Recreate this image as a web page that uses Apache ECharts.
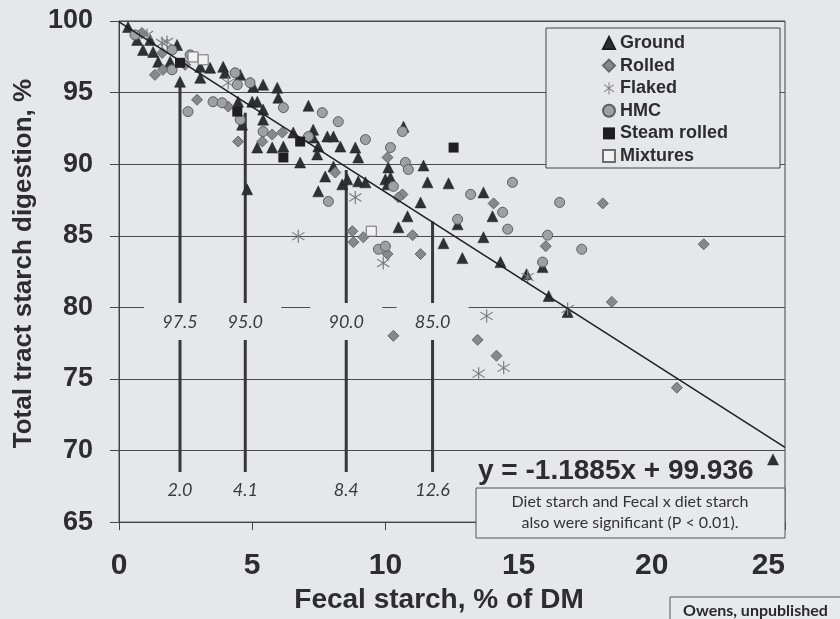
<!DOCTYPE html>
<html>
<head>
<meta charset="utf-8">
<script src="https://cdn.jsdelivr.net/npm/echarts@6/dist/echarts.min.js"></script>
<style>
  html, body { margin: 0; padding: 0; background: #e6e7eb; }
  #main { width: 840px; height: 619px; }
</style>
</head>
<body>
<div id="main"></div>
<script>
// values: [fecal starch % of DM, total tract starch digestion %]
const groundData = [
  [0.34, 99.58], [0.68, 98.68], [1.17, 98.68], [0.90, 97.98], [1.28, 97.84], [2.18, 98.33],
  [1.47, 97.15], [1.92, 97.15], [3.05, 96.80], [3.05, 96.03], [3.42, 96.73], [3.91, 96.80],
  [3.98, 96.38], [4.55, 96.24], [2.29, 95.76], [5.04, 95.41], [5.41, 95.55], [5.94, 95.34],
  [4.47, 94.36], [5.00, 94.36], [4.62, 92.76], [5.41, 93.81], [5.41, 93.11], [5.98, 94.64],
  [7.11, 94.08], [5.19, 91.16], [5.75, 91.16], [6.17, 91.23], [6.54, 92.21], [7.29, 92.41],
  [7.29, 91.86], [7.82, 91.93], [8.05, 91.93], [8.31, 91.23], [7.48, 91.23], [6.80, 90.12],
  [8.05, 89.84], [7.74, 89.14], [7.48, 88.10], [8.38, 88.59], [4.81, 88.24], [7.44, 90.68],
  [8.87, 91.16], [8.98, 90.47], [8.98, 88.80], [9.25, 88.73], [8.57, 88.94], [10.11, 89.77],
  [10.00, 88.94], [10.19, 89.07], [10.08, 88.59], [10.83, 86.36], [10.49, 85.59], [11.32, 87.33],
  [11.58, 88.73], [12.37, 88.66], [11.43, 89.91], [10.68, 92.62], [12.71, 85.80], [13.68, 88.03],
  [14.02, 86.36], [12.18, 84.48], [13.68, 84.90], [12.89, 83.44], [14.32, 83.16], [15.30, 82.32],
  [15.90, 82.81], [16.13, 80.79], [16.84, 79.68], [24.55, 69.38], [5.19, 94.36]
];
const rolledData = [
  [0.86, 99.16], [1.62, 97.77], [1.65, 96.59], [2.93, 94.50], [4.10, 94.02], [4.47, 91.58],
  [5.38, 91.58], [5.75, 92.07], [6.13, 92.21], [8.12, 89.42], [10.08, 90.47], [10.64, 87.89],
  [10.49, 87.68], [14.06, 87.26], [18.16, 87.26], [16.02, 84.27], [21.95, 84.41], [8.76, 85.32],
  [9.17, 84.90], [8.80, 84.55], [11.02, 85.04], [11.32, 83.72], [10.08, 83.72], [18.50, 80.38],
  [10.30, 78.01], [13.46, 77.73], [14.17, 76.62], [20.94, 74.39], [2.48, 96.94], [1.35, 96.24]
];
const flakedData = [
  [1.05, 99.03], [1.62, 98.47], [1.80, 98.54], [4.10, 95.69], [8.87, 87.68], [6.73, 84.97],
  [9.92, 83.09], [13.80, 79.40], [14.44, 75.78], [13.50, 75.37], [15.34, 82.12], [16.84, 79.89]
];
const hmcData = [
  [0.60, 99.03], [1.99, 97.98], [1.99, 96.59], [2.67, 97.63], [4.44, 95.55], [4.92, 95.69],
  [4.36, 96.38], [2.59, 93.67], [3.53, 94.36], [3.87, 94.29], [4.55, 93.11], [6.17, 93.95],
  [7.63, 93.60], [8.23, 92.97], [5.41, 92.28], [7.11, 91.93], [7.86, 87.40], [9.25, 91.72],
  [10.64, 92.28], [10.19, 91.16], [10.75, 90.12], [10.86, 89.63], [10.30, 88.45], [12.71, 86.15],
  [13.20, 87.89], [14.77, 88.73], [14.40, 86.64], [14.59, 85.46], [16.54, 87.33], [17.37, 84.06],
  [16.09, 85.04], [15.90, 83.16], [9.74, 84.06], [10.00, 84.27]
];
const steamData = [[2.29, 97.08], [4.44, 93.67], [6.80, 91.58], [6.17, 90.47], [12.56, 91.16]];
const mixData = [[2.78, 97.49], [3.16, 97.29], [9.47, 85.32]];

// regression y = -1.1885x + 99.936, end points
const fitLine = [[0, 99.94], [25, 70.22]];

// reference drop lines
const refX = [2.29, 4.74, 8.53, 11.77];
const refTop = [95.75, 93.6, 89.6, 86.0];
const refBottom = 68.5;
const refYLabels = ['97.5', '95.0', '90.0', '85.0'];
const refXLabels = ['2.0', '4.1', '8.4', '12.6'];

const yTicks = [65, 70, 75, 80, 85, 90, 95, 100];

const BG = '#e6e7eb';
const INK = '#2d2d2f';
const ARIAL = '"Liberation Sans", Arial, sans-serif';
const CAL = 'Lato, "Open Sans", sans-serif';

const flakedSymbol = 'path://M9.2 0L10.8 0L10.8 20L9.2 20Z M2.5 3.4L18.5 15.4L17.5 16.6L1.5 4.6Z M1.5 15.4L17.5 3.4L18.5 4.6L2.5 16.6Z';

const chart = echarts.init(document.getElementById('main'));

function renderRef(params, api) {
  const i = api.value(3);
  const pTop = api.coord([api.value(0), api.value(1)]);
  const pBot = api.coord([api.value(0), api.value(2)]);
  const pLab = api.coord([api.value(0), 78.98]);
  const pLab2 = api.coord([api.value(0), 67.22]);
  const labFont = 'italic 18px ' + CAL;
  return {
    type: 'group',
    children: [
      { type: 'line', shape: { x1: pTop[0], y1: pTop[1], x2: pBot[0], y2: pBot[1] },
        style: { stroke: '#38383a', lineWidth: 3 } },
      { type: 'rect', shape: { x: pLab[0] - 36, y: pLab[1] - 19, width: 72, height: 37 },
        style: { fill: BG } },
      { type: 'text', x: pLab[0], y: pLab[1],
        style: { text: refYLabels[i], font: labFont, fill: '#3a3a3c', align: 'center', verticalAlign: 'middle' } },
      { type: 'text', x: pLab2[0], y: pLab2[1],
        style: { text: refXLabels[i], font: labFont, fill: '#3a3a3c', align: 'center', verticalAlign: 'middle' } }
    ]
  };
}

const option = {
  backgroundColor: BG,
  animation: false,
  grid: {
    left: 119, right: 55, top: 21, bottom: 95,
    show: true, backgroundColor: BG, borderColor: '#444', borderWidth: 1
  },
  legend: {
    orient: 'vertical',
    left: 546, top: 28,
    padding: [6, 52, 3, 56],
    itemWidth: 12, itemHeight: 12, itemGap: 4.6,
    backgroundColor: BG, borderColor: '#444', borderWidth: 1,
    textStyle: { fontFamily: ARIAL, fontWeight: 'bold', fontSize: 18, lineHeight: 18, color: INK },
    data: ['Ground', 'Rolled', 'Flaked', 'HMC', 'Steam rolled', 'Mixtures']
  },
  xAxis: {
    type: 'value', min: 0, max: 25, interval: 5,
    name: 'Fecal starch, % of DM', nameLocation: 'middle', nameGap: 62,
    nameTextStyle: { fontFamily: ARIAL, fontWeight: 'bold', fontSize: 28, color: INK, padding: [0, 26, 0, 0] },
    axisLine: { lineStyle: { color: '#444', width: 1 } },
    axisTick: { show: true, inside: false, length: 8, lineStyle: { color: '#444' } },
    axisLabel: { margin: 29, fontFamily: ARIAL, fontWeight: 'bold', fontSize: 30, color: INK, alignMaxLabel: 'right' },
    splitLine: { show: false }
  },
  yAxis: {
    type: 'value', min: yTicks[0], max: yTicks[yTicks.length - 1], interval: 5,
    name: 'Total tract starch digestion, %', nameLocation: 'middle', nameGap: 80,
    nameTextStyle: { fontFamily: ARIAL, fontWeight: 'bold', fontSize: 26, color: INK, padding: [0, 0, 0, 16] },
    axisLine: { show: true, lineStyle: { color: '#444', width: 1 } },
    axisTick: { show: true, inside: false, length: 9, lineStyle: { color: '#444' } },
    axisLabel: { margin: 26, fontFamily: ARIAL, fontWeight: 'bold', fontSize: 27, color: INK },
    splitLine: { show: true, lineStyle: { color: '#4c4c4e', width: 1 } }
  },
  series: [
    {
      name: 'drops', type: 'custom', renderItem: renderRef, z: 1, silent: true,
      data: refX.map((x, i) => [x, refTop[i], refBottom, i])
    },
    {
      name: 'Ground', type: 'scatter', symbol: 'triangle', symbolSize: 11, z: 3,
      itemStyle: { color: '#2f3034', borderColor: '#1e1e20', borderWidth: 0.5, opacity: 1 },
      data: groundData
    },
    {
      name: 'Rolled', type: 'scatter', symbol: 'diamond', symbolSize: 11, z: 3,
      itemStyle: { color: '#87888d', borderColor: '#66676b', borderWidth: 1, opacity: 1 },
      data: rolledData
    },
    {
      name: 'Flaked', type: 'scatter', symbol: flakedSymbol, symbolSize: 13, z: 3,
      itemStyle: { color: '#7c7d82', opacity: 1 },
      data: flakedData
    },
    {
      name: 'HMC', type: 'scatter', symbol: 'circle', symbolSize: 10, z: 3,
      itemStyle: { color: '#9fa0a4', borderColor: '#5c5d61', borderWidth: 1, opacity: 1 },
      data: hmcData
    },
    {
      name: 'Steam rolled', type: 'scatter', symbol: 'rect', symbolSize: 10, z: 3,
      itemStyle: { color: '#1f1f21', opacity: 1 },
      data: steamData
    },
    {
      name: 'Mixtures', type: 'scatter', symbol: 'rect', symbolSize: 10, z: 3,
      itemStyle: { color: '#f2f2f2', borderColor: '#6e6e6e', borderWidth: 1, opacity: 1 },
      data: mixData
    },
    {
      name: 'fit', type: 'line', data: fitLine, symbol: 'none', z: 4, silent: true,
      lineStyle: { color: '#1e1e20', width: 1.5 }
    }
  ],
  graphic: [
    {
      type: 'text', x: 478, y: 471, z: 10,
      style: { text: 'y = -1.1885x + 99.936', font: 'bold 28px ' + ARIAL, fill: INK, verticalAlign: 'middle' }
    },
    {
      type: 'rect', shape: { x: 476, y: 488, width: 309, height: 50 }, z: 10,
      style: { fill: '#e8e9ec', stroke: '#555', lineWidth: 1 }
    },
    {
      type: 'text', x: 630, y: 502, z: 11,
      style: { text: 'Diet starch and Fecal x diet starch', font: '16px ' + CAL, fill: '#333',
               align: 'center', verticalAlign: 'middle' }
    },
    {
      type: 'text', x: 630, y: 523, z: 11,
      style: { text: 'also were significant (P < 0.01).', font: '16px ' + CAL, fill: '#333',
               align: 'center', verticalAlign: 'middle' }
    },
    {
      type: 'rect', shape: { x: 670, y: 597, width: 180, height: 30 }, z: 10,
      style: { fill: '#e8e9ec', stroke: '#555', lineWidth: 1 }
    },
    {
      type: 'text', x: 683, y: 611, z: 11,
      style: { text: 'Owens, unpublished', font: 'bold 16px ' + CAL, fill: '#2a2a2a', verticalAlign: 'middle' }
    }
  ]
};

chart.setOption(option);
</script>
</body>
</html>
